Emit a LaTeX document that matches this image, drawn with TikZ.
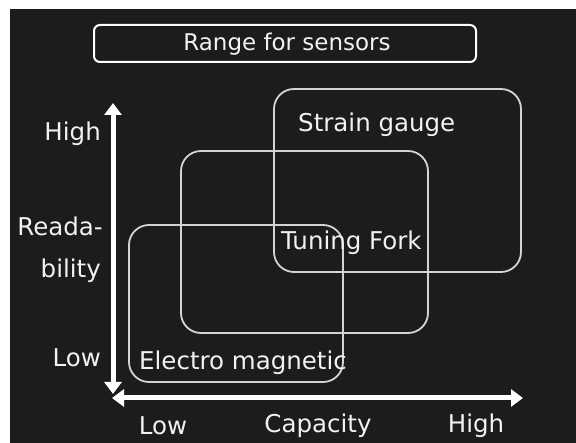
\documentclass[tikz,border=0pt]{standalone}
\usepackage{fontspec}
\setmainfont{DejaVu Sans}
\usetikzlibrary{arrows.meta}
\definecolor{bgc}{HTML}{1B1C1C}
\definecolor{boxc}{HTML}{D4D4D4}
\definecolor{txtc}{HTML}{F2F2F2}
\begin{document}
\begin{tikzpicture}[x=1pt,y=-1pt,
  lbl/.style={text=txtc,font=\fontsize{24.5}{28}\selectfont,inner sep=0pt},
  ttl/.style={text=txtc,font=\fontsize{23}{26}\selectfont,inner sep=0pt},
  rangebox/.style={draw=boxc,line width=1.8pt,rounded corners=20pt,inner sep=0pt},
  axis/.style={draw=white,line width=5pt,{Triangle[width=17pt,length=12pt]}-{Triangle[width=17pt,length=12pt]}}]
\useasboundingbox (0,0) rectangle (576,443);
\fill[white] (0,0) rectangle (576,443);
\fill[bgc] (10,9) rectangle (576,443);
% title
\node[draw=white,line width=2pt,rounded corners=6pt,minimum width=382pt,minimum height=37pt,inner sep=0pt] (title) at (285,43.5) {};
\node[ttl,anchor=center] (titletext) at (287,44) {Range for sensors};
% range boxes
\node[rangebox,minimum width=247pt,minimum height=183pt] (strain) at (397.5,180.5) {};
\node[rangebox,minimum width=247pt,minimum height=182pt] (fork) at (304.5,242) {};
\node[rangebox,minimum width=214pt,minimum height=157pt] (electro) at (236,303.5) {};
\node[lbl,anchor=west] (straint) at (298,125) {Strain gauge};
\node[lbl,anchor=west] (forkt) at (281,243) {Tuning Fork};
\node[lbl,anchor=west] (electrot) at (139,363) {Electro magnetic};
% axes
\coordinate (ytop) at (113,103);
\coordinate (ybot) at (113,394);
\coordinate (xleft) at (112,398);
\coordinate (xright) at (523,398);
\draw[axis] (ybot) -- (ytop);
\draw[axis] (xleft) -- (xright);
% axis labels
\node[lbl,anchor=east] (yhigh) at (101,134) {High};
\node[lbl,anchor=east] (yname1) at (103,226) {Reada-};
\node[lbl,anchor=east] (yname2) at (101,271) {bility};
\node[lbl,anchor=east] (ylow) at (101,358) {Low};
\node[lbl,anchor=center] (xlow) at (163,426) {Low};
\node[lbl,anchor=center] (xname) at (318,426) {Capacity};
\node[lbl,anchor=center] (xhigh) at (476,426) {High};
\end{tikzpicture}
\end{document}
